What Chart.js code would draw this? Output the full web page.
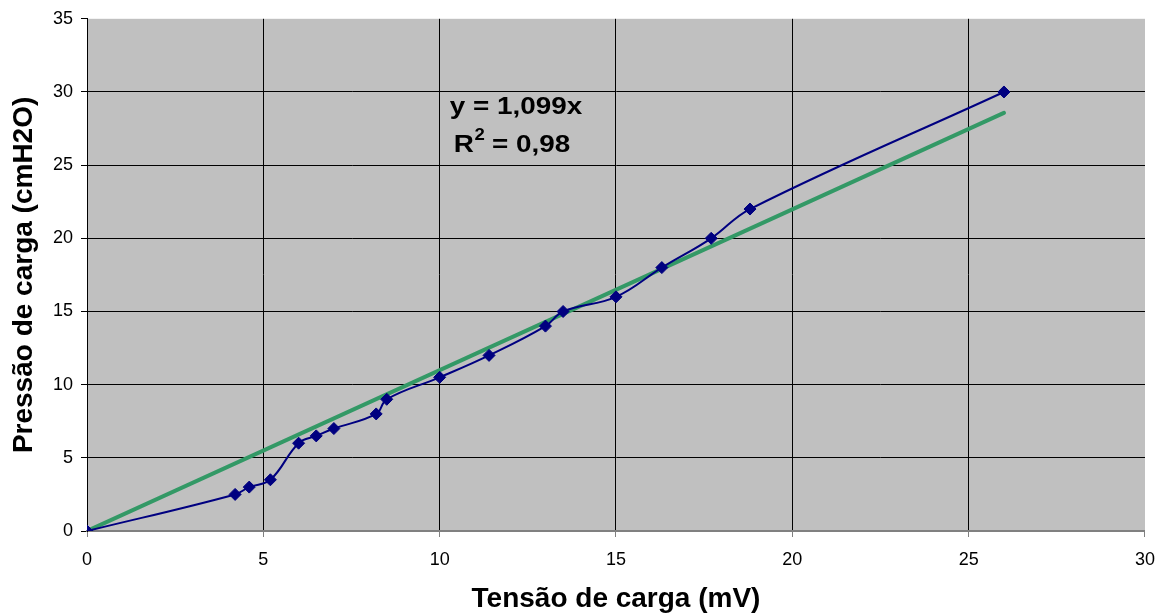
<!DOCTYPE html>
<html>
<head>
<meta charset="utf-8">
<script src="https://cdn.jsdelivr.net/npm/chart.js@4.4.0/dist/chart.umd.min.js"></script>
<style>
  html, body { margin: 0; padding: 0; background: #ffffff; }
  #wrap { width: 1167px; height: 615px; position: relative; }
</style>
</head>
<body>
<div id="wrap"><canvas id="c" width="1167" height="615"></canvas></div>
<script>
// Measured series: Tensão de carga (mV) vs Pressão de carga (cmH2O)
const tensao  = [0, 4.2, 4.6, 5.2, 6.0, 6.5, 7.0, 8.2, 8.5, 10.0, 11.4, 13.0, 13.5, 15.0, 16.3, 17.7, 18.8, 26.0];
const pressao = [0, 2.5, 3.0, 3.5, 6.0, 6.5, 7.0, 8.0, 9.0, 10.5, 12.0, 14.0, 15.0, 16.0, 18.0, 20.0, 22.0, 30.0];
// Linear trendline y = 1,099x drawn between its end points
const trendX = [0, 26];
const trendY = [0, 28.574];
// Equation label
const eqLine1 = "y = 1,099x";
const eqLine2a = "R";
const eqLine2sup = "2";
const eqLine2b = " = 0,98";
// Axis titles
const xTitle = "Tensão de carga (mV)";
const yTitle = "Pressão de carga (cmH2O)";

const FONT = "'Liberation Sans', Arial, sans-serif";

const plotBg = {
  id: 'plotBg',
  beforeDraw(chart) {
    const { ctx, chartArea: a } = chart;
    ctx.save();
    ctx.fillStyle = '#C0C0C0';
    ctx.fillRect(a.left, a.top, a.right - a.left, a.bottom - a.top);
    ctx.restore();
  }
};

const eqLabel = {
  id: 'eqLabel',
  afterDatasetsDraw(chart) {
    const ctx = chart.ctx;
    const sx = 1.16;
    ctx.save();
    ctx.fillStyle = '#000';
    ctx.textBaseline = 'alphabetic';
    ctx.textAlign = 'left';
    ctx.font = "bold 24px " + FONT;
    // line 1
    let w1 = ctx.measureText(eqLine1).width * sx;
    ctx.save();
    ctx.translate(516 - w1 / 2, 114);
    ctx.scale(sx, 1);
    ctx.fillText(eqLine1, 0, 0);
    ctx.restore();
    // line 2
    const wR = ctx.measureText(eqLine2a).width;
    const wB = ctx.measureText(eqLine2b).width;
    ctx.font = "bold 16px " + FONT;
    const wS = ctx.measureText(eqLine2sup).width;
    const total = (wR + wS + wB) * sx;
    ctx.save();
    ctx.translate(512 - total / 2, 152);
    ctx.scale(sx, 1);
    ctx.font = "bold 24px " + FONT;
    ctx.fillText(eqLine2a, 0, 0);
    ctx.font = "bold 16px " + FONT;
    ctx.fillText(eqLine2sup, wR + 0.5, -12);
    ctx.font = "bold 24px " + FONT;
    ctx.fillText(eqLine2b, wR + wS, 0);
    ctx.restore();
    ctx.restore();
  }
};

const mainPts = tensao.map((x, i) => ({ x: x, y: pressao[i] }));
const trendPts = trendX.map((x, i) => ({ x: x, y: trendY[i] }));

new Chart(document.getElementById('c'), {
  type: 'scatter',
  data: {
    datasets: [
      {
        label: 'Pressão',
        data: mainPts,
        showLine: true,
        borderColor: '#000080',
        backgroundColor: '#000080',
        borderWidth: 2,
        tension: 0.4,
        pointStyle: 'rectRot',
        pointRadius: 6,
        pointBorderWidth: 1,
        pointBackgroundColor: '#000080',
        pointBorderColor: '#000080'
      },
      {
        label: 'Tendência',
        data: trendPts,
        showLine: true,
        borderColor: '#339966',
        borderWidth: 4,
        borderCapStyle: 'round',
        pointRadius: 0,
        tension: 0
      }
    ]
  },
  options: {
    responsive: false,
    animation: false,
    devicePixelRatio: 1,
    layout: { padding: { top: 18, right: 21, left: 0, bottom: 0 } },
    plugins: {
      legend: { display: false },
      tooltip: { enabled: false }
    },
    scales: {
      x: {
        type: 'linear',
        min: 0, max: 30,
        afterFit(scale) { scale.height = 84; },
        ticks: {
          stepSize: 5,
          color: '#000',
          padding: 12,
          font: { family: FONT, size: 18 },
          maxRotation: 0
        },
        grid: {
          color: (c) => (c.tick && c.tick.value === 30) ? 'rgba(0,0,0,0)' : '#000',
          lineWidth: 1,
          tickLength: 6,
          tickColor: '#808080'
        },
        border: { display: true, color: '#808080', width: 2 },
        title: {
          display: true,
          text: xTitle,
          color: '#000',
          font: { family: FONT, size: 28, weight: 'bold', lineHeight: 1 },
          padding: { top: 0, bottom: 2 }
        }
      },
      y: {
        type: 'linear',
        min: 0, max: 35,
        afterFit(scale) { scale.width = 87; },
        ticks: {
          stepSize: 5,
          color: '#000',
          padding: 8,
          font: { family: FONT, size: 18 }
        },
        grid: {
          color: (c) => (c.tick && c.tick.value === 35) ? 'rgba(0,0,0,0)' : '#000',
          lineWidth: 1,
          tickLength: 6,
          tickColor: '#000'
        },
        border: { display: true, color: '#000', width: 1 },
        title: {
          display: true,
          text: yTitle,
          color: '#000',
          font: { family: FONT, size: 28, weight: 'bold', lineHeight: 1 },
          padding: { top: 10, bottom: 0 }
        }
      }
    }
  },
  plugins: [plotBg, eqLabel]
});
</script>
</body>
</html>
